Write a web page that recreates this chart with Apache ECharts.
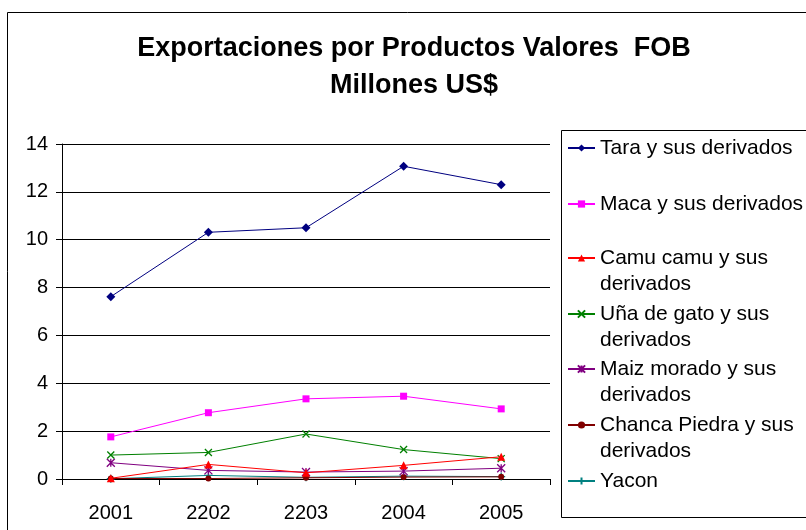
<!DOCTYPE html>
<html>
<head>
<meta charset="utf-8">
<script src="https://cdn.jsdelivr.net/npm/echarts@6/dist/echarts.min.js"></script>
<style>
  html,body{margin:0;padding:0;background:#fff;}
  #chart{width:806px;height:530px;}
</style>
</head>
<body>
<div id="chart"></div>
<script>
// datos (millones US$)
var years = ['2001','2202','2203','2004','2005'];
var tara   = [7.62, 10.31, 10.50, 13.07, 12.30];
var maca   = [1.76, 2.77, 3.35, 3.46, 2.93];
var camu   = [0.03, 0.61, 0.26, 0.57, 0.93];
var una    = [1.00, 1.11, 1.88, 1.23, 0.85];
var maiz   = [0.68, 0.36, 0.29, 0.33, 0.45];
var chanca = [0.02, 0.02, 0.05, 0.08, 0.09];
var yacon  = [0.01, 0.15, 0.07, 0.12, 0.10];
var yTicks = [0, 14, 2];

var names = ['Tara y sus derivados','Maca y sus derivados','Camu camu y sus\nderivados',
  'Uña de gato y sus\nderivados','Maiz morado y sus\nderivados','Chanca Piedra y sus\nderivados','Yacon'];
var values = [tara, maca, camu, una, maiz, chanca, yacon];
var colors = ['#000080','#ff00ff','#ff0000','#008000','#800080','#800000','#008080'];
var symbols = ['diamond','rect','triangle','path://M0,0L10,10M10,0L0,10',
  'path://M0,0L10,10M10,0L0,10M5,0L5,10','circle','path://M5,0L5,10M0,5L10,5'];
var sizes = [9, 7, 8, 7, 8, 6, 8];
var legendTop = [148, 204, 258, 314, 369, 425, 481];

var font = "'Liberation Sans', Arial, sans-serif";
var chart = echarts.init(document.getElementById('chart'));

var series = [], legends = [];
for (var i = 0; i < names.length; i++) {
  var stroke = symbols[i].indexOf('path') === 0;
  var two = names[i].indexOf('\n') > 0;
  series.push({
    name: names[i],
    type: 'line',
    data: values[i],
    symbol: symbols[i],
    symbolSize: sizes[i],
    lineStyle: {color: colors[i], width: 1},
    itemStyle: {color: colors[i], borderColor: colors[i], borderWidth: stroke ? 1.3 : 0},
    z: 10 - i
  });
  // leyenda de dos lineas: linea vacia arriba para que el icono quede en la primera linea
  legends.push({
    data: [names[i]],
    orient: 'vertical',
    left: 567,
    top: two ? legendTop[i] - 39 : legendTop[i] - 13,
    padding: 0,
    itemWidth: 27,
    itemHeight: 9,
    itemGap: 0,
    selectedMode: false,
    formatter: two ? function (n) { return '\n' + n; } : '{name}',
    textStyle: {fontFamily: font, fontSize: 21, color: '#000', lineHeight: 26}
  });
}

chart.setOption({
  animation: false,
  backgroundColor: '#fff',
  grid: {left: 62, right: 256, top: 144, bottom: 51},
  legend: legends,
  xAxis: {
    type: 'category',
    data: years,
    boundaryGap: true,
    axisLine: {lineStyle: {color: '#000', width: 1}},
    axisTick: {show: true, length: 6, lineStyle: {color: '#000'}},
    axisLabel: {color: '#000', fontFamily: font, fontSize: 20, margin: 24}
  },
  yAxis: {
    type: 'value',
    min: yTicks[0], max: yTicks[1], interval: yTicks[2],
    axisLine: {show: true, lineStyle: {color: '#000', width: 1}},
    axisTick: {show: true, length: 6, lineStyle: {color: '#000'}},
    axisLabel: {color: '#000', fontFamily: font, fontSize: 20, margin: 14},
    splitLine: {lineStyle: {color: '#000', width: 1}}
  },
  series: series,
  graphic: [
    {type: 'rect', shape: {x: 7.5, y: 12.5, width: 850, height: 600}, silent: true,
      style: {fill: 'none', stroke: '#000', lineWidth: 1}, z: -1},
    {type: 'rect', shape: {x: 561.5, y: 130.5, width: 300, height: 387}, silent: true,
      style: {fill: 'none', stroke: '#000', lineWidth: 1}, z: -1},
    {type: 'text', x: 414, y: 30, silent: true,
      style: {text: 'Exportaciones por Productos Valores  FOB\nMillones US$',
        fontFamily: font, fontWeight: 'bold', fontSize: 27, lineHeight: 37, fill: '#000',
        align: 'center', verticalAlign: 'top'}}
  ]
});
</script>
</body>
</html>
